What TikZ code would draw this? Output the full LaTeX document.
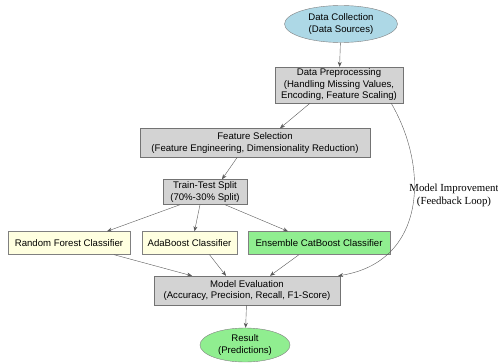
\documentclass[tikz,border=0pt]{standalone}
\usepackage{fontspec}
\setmainfont{Liberation Sans}
\newfontfamily\labelfont{Liberation Serif}
\usepackage{tikz}
\usetikzlibrary{shapes.geometric, arrows.meta}
\definecolor{boxgray}{HTML}{D3D3D3}
\definecolor{lightyel}{HTML}{FFFFE0}
\definecolor{lightgrn}{HTML}{90EE90}
\definecolor{lightblu}{HTML}{ADD8E6}

\begin{document}
\begin{tikzpicture}[x=1pt,y=-1pt,
    every node/.style={font=\fontsize{9.6}{11.5}\selectfont, align=center, inner sep=1pt},
    procbox/.style={rectangle, draw=black!55, fill=boxgray},
    modelbox/.style={rectangle, draw=black!50, fill=lightyel, minimum height=23pt},
    bestbox/.style={rectangle, draw=black!50, fill=lightgrn, minimum height=23pt},
    termnode/.style={ellipse, draw=black!50, inner sep=0pt},
    edge/.style={draw=black!65, -{Stealth[length=5pt,width=4pt]}}]
            \useasboundingbox (0,0) rectangle (498,364);
            % stages
            \node[termnode, fill=lightblu, minimum width=113pt, minimum height=37pt] (coll) at (341,24) {Data Collection\\(Data Sources)};
            \node[procbox, minimum width=128pt, minimum height=36pt] (prep) at (339,85) {Data Preprocessing\\(Handling Missing Values,\\Encoding, Feature Scaling)};
            \node[procbox, minimum width=230pt, minimum height=29pt] (feat) at (255,143) {Feature Selection\\(Feature Engineering, Dimensionality Reduction)};
            \node[procbox, minimum width=84pt, minimum height=25pt] (split) at (205,192) {Train-Test Split\\(70\%-30\% Split)};
            % classifiers
            \node[modelbox, minimum width=122pt] (rf) at (69,243) {Random Forest Classifier};
            \node[modelbox, minimum width=95pt] (ada) at (189.5,243) {AdaBoost Classifier};
            \node[bestbox, minimum width=142pt] (cat) at (319,243) {Ensemble CatBoost Classifier};
            \node[procbox, minimum width=186pt, minimum height=29pt] (eval) at (247,290.5) {Model Evaluation\\(Accuracy, Precision, Recall, F1-Score)};
            \node[termnode, fill=lightgrn, minimum width=90pt, minimum height=34pt] (res) at (245,345) {Result\\(Predictions)};
            \node[font=\labelfont\fontsize{10.8}{13}\selectfont] (fb) at (454,195) {Model Improvement\\(Feedback Loop)};
            % arrows
            \draw[edge] (coll) -- (prep);
            \draw[edge] ([xshift=-29pt]prep.south) -- ([xshift=25pt]feat.north);
            \draw[edge] ([xshift=-18pt]feat.south) -- ([xshift=17pt]split.north);
            \draw[edge] ([xshift=-25pt]split.south) -- ([xshift=38pt]rf.north);
            \draw[edge] ([xshift=-5pt]split.south) -- ([xshift=5pt]ada.north);
            \draw[edge] ([xshift=20pt]split.south) -- ([xshift=-31pt]cat.north);
            \draw[edge] ([xshift=45pt]rf.south) -- ([xshift=-55pt]eval.north);
            \draw[edge] ([xshift=20pt]ada.south) -- ([xshift=-21pt]eval.north);
            \draw[edge] ([xshift=-20pt]cat.south) -- ([xshift=23pt]eval.north);
            \draw[edge] ([xshift=-12pt]prep.south east) .. controls (430,170) and (425,262) .. ([xshift=-2pt]eval.north east);
            \draw[edge] (eval) -- (res);
\end{tikzpicture}
\end{document}
